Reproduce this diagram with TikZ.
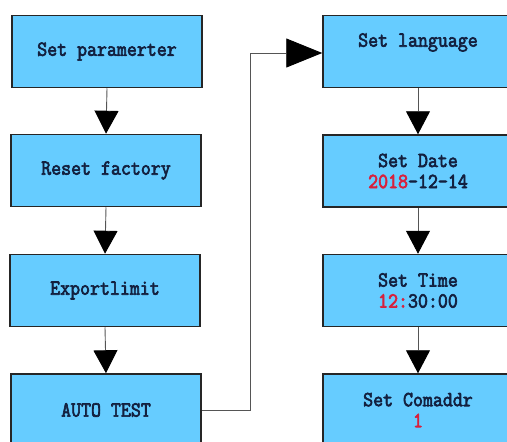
\documentclass[tikz,border=0pt]{standalone}
\usepackage{fontspec}
\usetikzlibrary{arrows.meta}
\setmonofont[FakeBold=3,FakeStretch=0.9]{Latin Modern Mono}
\definecolor{boxblue}{HTML}{66CCFF}
\definecolor{boxtext}{HTML}{13203F}
\definecolor{numred}{HTML}{D8203C}
\definecolor{linegray}{HTML}{555555}
\tikzset{
  stepbox/.style={draw=black!85, line width=1.5pt, fill=boxblue, minimum width=190pt, minimum height=72pt,
    inner sep=0pt, align=center, text=boxtext, font=\ttfamily\fontsize{21.5}{21}\selectfont},
  flow/.style={draw=linegray, line width=0.9pt, -{Triangle[width=24pt,length=23pt,color=black]}},
  bigflow/.style={draw=linegray, line width=0.9pt, -{Triangle[width=29pt,length=36pt,color=black]}},
}
\begin{document}
\begin{tikzpicture}[x=1pt,y=-1pt]
\useasboundingbox (0,0) rectangle (507,442);
\begin{scope}
\clip (0,0) rectangle (507,442);
\node[stepbox] (p) at (107,51.5) {Set paramerter};
\node[stepbox] (r) at (106,170.5) {Reset factory};
\node[stepbox] (e) at (105,290.5) {Exportlimit};
\node[stepbox] (a) at (106,410) {AUTO TEST};
\node[stepbox] (l) at (418,51.5) {Set language\\[2pt]~};
\node[stepbox] (d) at (418,171) {Set Date\\{\color{numred}2018}-12-14};
\node[stepbox] (t) at (418,290.5) {Set Time\\{\color{numred}12:}30:00};
\node[stepbox] (c) at (418,410) {Set Comaddr\\{\color{numred}1}};
\draw[flow] (p.south) -- (r.north);
\draw[flow] (r.south) -- (e.north);
\draw[flow] (e.south) -- (a.north);
\draw[flow] (l.south) -- (d.north);
\draw[flow] (d.south) -- (t.north);
\draw[flow] (t.south) -- (c.north);
\coordinate (k1) at (250,410);
\coordinate (k2) at (250,53);
\draw[bigflow] (a.east) -- (k1) -- (k2) -- (l.west |- k2);
\end{scope}
\end{tikzpicture}
\end{document}
